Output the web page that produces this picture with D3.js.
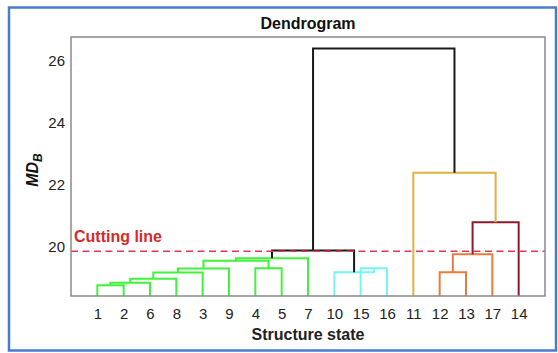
<!DOCTYPE html>
<html>
<head>
<meta charset="utf-8">
<script src="https://cdn.jsdelivr.net/npm/d3@7/dist/d3.min.js"></script>
<style>
  html, body { margin: 0; padding: 0; background: #fff; }
  svg { display: block; font-family: "Liberation Sans", Arial, sans-serif; }
</style>
</head>
<body>
<svg id="chart" width="558" height="353"></svg>
<script>
// Leaf order along the x axis (structure state ids)
const leafOrder = [1, 2, 6, 8, 3, 9, 4, 5, 7, 10, 15, 16, 11, 12, 13, 17, 14];

// Linkage: merge k creates node 18 + k from two children (leaf ids or earlier node ids)
const mergeLeft   = [1, 18, 19, 20, 21, 4, 22, 24, 15, 10, 25, 12, 29, 30, 11, 28];
const mergeRight  = [2, 6, 8, 3, 9, 5, 23, 7, 16, 26, 27, 13, 17, 14, 31, 32];
const mergeHeight = [18.75, 18.83, 18.96, 19.16, 19.29, 19.30, 19.54, 19.62,
                     19.30, 19.17, 19.87, 19.17, 19.75, 20.79, 22.39, 26.41];
const mergeGroup  = ["g", "g", "g", "g", "g", "g", "g", "g",
                     "c", "c", "k", "o", "o", "r", "y", "k"];

const groupColor = { g: "#3ff23a", c: "#72f6f8", k: "#1a1a1a", o: "#e97b3d", r: "#8e1b2c", y: "#e2b23e" };

const yTicks = [20, 22, 24, 26];
const cutHeight = 19.85;

const svg = d3.select("#chart");
const m = { left: 71, right: 545, top: 37, bottom: 296 };

const x = d3.scaleLinear().domain([0, leafOrder.length + 1]).range([m.left, m.right]);
const y = d3.scaleLinear().domain([18.4, 26.78]).range([m.bottom, m.top]);

// outer frame
svg.append("rect")
  .attr("x", 9).attr("y", 7.5).attr("width", 547).attr("height", 343)
  .attr("fill", "none").attr("stroke", "#4b7bcf").attr("stroke-width", 2.5);

// node positions
const pos = new Map();
leafOrder.forEach((id, i) => pos.set(id, { x: x(i + 1), h: y.domain()[0] }));
mergeLeft.forEach((l, k) => {
  const a = pos.get(l), b = pos.get(mergeRight[k]);
  pos.set(18 + k, { x: (a.x + b.x) / 2, h: mergeHeight[k] });
});

// links
const links = svg.append("g").attr("fill", "none").attr("stroke-width", 2).attr("stroke-linejoin", "miter");
mergeLeft.forEach((l, k) => {
  const a = pos.get(l), b = pos.get(mergeRight[k]);
  const h = mergeHeight[k];
  const p = d3.path();
  p.moveTo(a.x, y(a.h));
  p.lineTo(a.x, y(h));
  p.lineTo(b.x, y(h));
  p.lineTo(b.x, y(b.h));
  links.append("path").attr("d", p.toString()).attr("stroke", groupColor[mergeGroup[k]]);
});

// cutting line
svg.append("line")
  .attr("x1", m.left).attr("x2", m.right)
  .attr("y1", y(cutHeight)).attr("y2", y(cutHeight))
  .attr("stroke", "#dc3a52").attr("stroke-width", 1.6)
  .attr("stroke-dasharray", "7,4.5");

svg.append("text")
  .attr("x", 74).attr("y", 242)
  .attr("fill", "#d42a2a").attr("font-size", 16).attr("font-weight", "bold")
  .text("Cutting line");

// plot box
svg.append("rect")
  .attr("x", m.left).attr("y", m.top)
  .attr("width", m.right - m.left).attr("height", m.bottom - m.top)
  .attr("fill", "none").attr("stroke", "#8a8a8a").attr("stroke-width", 1.5);

// axes
const xAxis = d3.axisBottom(x)
  .tickValues(d3.range(1, leafOrder.length + 1))
  .tickFormat(i => leafOrder[i - 1])
  .tickSize(0).tickPadding(12);
const gx = svg.append("g").attr("transform", `translate(0,${m.bottom})`).call(xAxis);
gx.select(".domain").remove();
gx.selectAll("text").attr("font-size", 15).attr("fill", "#222").attr("font-family", "Liberation Sans, Arial, sans-serif");

const yAxis = d3.axisLeft(y).tickValues(yTicks).tickSize(0).tickPadding(6);
const gy = svg.append("g").attr("transform", `translate(${m.left},0)`).call(yAxis);
gy.select(".domain").remove();
gy.selectAll("text").attr("font-size", 15).attr("fill", "#222").attr("font-family", "Liberation Sans, Arial, sans-serif");

// title and axis labels
svg.append("text")
  .attr("x", 308).attr("y", 29).attr("text-anchor", "middle")
  .attr("font-size", 16).attr("font-weight", "bold").attr("fill", "#111")
  .text("Dendrogram");

svg.append("text")
  .attr("x", 308).attr("y", 340).attr("text-anchor", "middle")
  .attr("font-size", 16).attr("font-weight", "bold").attr("fill", "#222")
  .text("Structure state");

const yl = svg.append("text")
  .attr("transform", "translate(38,170) rotate(-90)")
  .attr("text-anchor", "middle")
  .attr("font-size", 16).attr("font-weight", "bold").attr("font-style", "italic").attr("fill", "#111");
yl.append("tspan").text("MD");
yl.append("tspan").attr("font-size", 12).attr("dy", 4).text("B");
</script>
</body>
</html>
